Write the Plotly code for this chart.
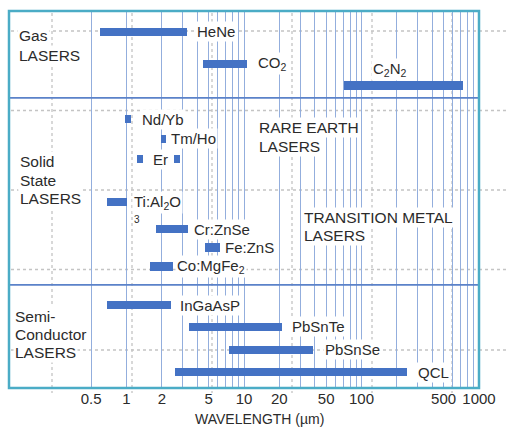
import numpy as np
import plotly.graph_objects as go

# ---------------- data ----------------
lasers = ["HeNe", "CO2", "C2N2", "Nd/Yb", "Tm/Ho", "Er", "Er", "Ti:Al2O3",
          "Cr:ZnSe", "Fe:ZnS", "Co:MgFe2", "InGaAsP", "PbSnTe", "PbSnSe", "QCL"]
start_um = [0.6, 4.5, 71, 0.98, 1.95, 1.22, 2.53, 0.68, 1.8, 4.7, 1.6, 0.68, 3.4, 7.5, 2.6]
end_um = [3.3, 10.6, 730, 1.09, 2.15, 1.37, 2.84, 1.0, 3.35, 6.2, 2.5, 2.4, 21, 39, 245]
rows = [1.0, 2.53, 3.56, 5.16, 6.11, 7.07, 7.07, 9.12, 10.41, 11.29, 12.2,
        14.04, 15.08, 16.17, 17.25]
section_bounds = [4.15, 13.08]

tick_vals = [0.5, 1, 2, 5, 10, 20, 50, 100, 500, 1000]
tick_text = ["0.5", "1", "2", "5", "10", "20", "50", "100", "500", "1000"]
grid_vals = [0.5, 1, 2, 3, 4, 5, 6, 7, 8, 9, 10, 20, 30, 40, 50, 60, 70, 80, 90,
             100, 200, 300, 400, 500, 600, 700, 800, 900, 1000]

# bar label: (text, bar index, x shift px, y shift px, anchor at 'end' or 'start')
bar_labels = [
    ("HeNe", 0, 8, 0, "end"),
    ("CO<sub>2</sub>", 1, 9, 0, "end"),
    ("C<sub>2</sub>N<sub>2</sub>", 2, 27, 16, "start"),
    ("Nd/Yb", 3, 9, 0, "end"),
    ("Tm/Ho", 4, 3, 0, "end"),
    ("Er", 5, 8, 0, "end"),
    ("Ti:Al<sub>2</sub>O", 7, 5, 0, "end"),
    ("Cr:ZnSe", 8, 4, 0, "end"),
    ("Fe:ZnS", 9, 3, 0, "end"),
    ("Co:MgFe<sub>2</sub>", 10, 2, 0, "end"),
    ("InGaAsP", 11, 7, 0, "end"),
    ("PbSnTe", 12, 8, 0, "end"),
    ("PbSnSe", 13, 10, 0, "end"),
    ("QCL", 14, 9, 0, "end"),
]

# ---------------- layout geometry ----------------
W, H = 507, 427
ML, MR, MT, MB = 9, 28, 11, 39
PW, PH = W - ML - MR, H - MT - MB
Y_RANGE = [18, 0]


def px_x(px):
    return (px - ML) / PW


def px_y(py):
    return (H - MB - py) / PH


BAR_COLOR = "#4472C4"
GRID_COLOR = "#93aedd"
TEXT_COLOR = "#2b2b2b"
FONT = "Liberation Sans, Arial, sans-serif"

fig = go.Figure()
widths = [e - s for s, e in zip(start_um, end_um)]
fig.add_trace(go.Bar(
    y=rows, x=widths, base=start_um, orientation="h", width=0.39,
    marker=dict(color=BAR_COLOR, line=dict(width=0)),
    hovertext=lasers, hoverinfo="text",
))

annotations = []
for text, idx, xs, ys, anchor in bar_labels:
    xv = end_um[idx] if anchor == "end" else start_um[idx]
    annotations.append(dict(
        x=np.log10(xv), y=rows[idx], xref="x", yref="y", text=text,
        xanchor="left", yanchor="middle", xshift=xs, yshift=ys,
        showarrow=False, bgcolor="white", borderpad=1,
        font=dict(size=15, color=TEXT_COLOR, family=FONT)))

# stray subscript "3" of Ti:Al2O3
annotations.append(dict(x=px_x(131.5), y=px_y(220), xref="paper", yref="paper",
                        text="3", xanchor="left", yanchor="middle", showarrow=False,
                        font=dict(size=10, color=TEXT_COLOR, family=FONT)))

# category and group labels (one annotation per line)
side_labels = [
    ("Gas", 17, 36), ("LASERS", 17, 55),
    ("Solid", 18, 161.5), ("State", 18, 180), ("LASERS", 18, 198),
    ("Semi-", 13, 316), ("Conductor", 13, 334), ("LASERS", 13, 352),
]
for t, x, y in side_labels:
    annotations.append(dict(x=px_x(x), y=px_y(y), xref="paper", yref="paper", text=t,
                            xanchor="left", yanchor="middle", showarrow=False,
                            bgcolor="white", borderpad=1,
                            font=dict(size=15.5, color=TEXT_COLOR, family=FONT)))

group_labels = [
    ("RARE EARTH", 257, 128), ("LASERS", 257, 146),
    ("TRANSITION METAL", 302, 217), ("LASERS", 302, 235),
]
for t, x, y in group_labels:
    annotations.append(dict(x=px_x(x), y=px_y(y), xref="paper", yref="paper", text=t,
                            xanchor="left", yanchor="middle", showarrow=False,
                            bgcolor="white", borderpad=1,
                            font=dict(size=15.5, color=TEXT_COLOR, family=FONT)))

annotations.append(dict(x=px_x(259), y=px_y(419), xref="paper", yref="paper",
                        text="WAVELENGTH (µm)", xanchor="center", yanchor="middle",
                        showarrow=False,
                        font=dict(size=14, color=TEXT_COLOR, family=FONT)))

shapes = []
# dotted background grid
for vx in [52, 132, 212, 292, 372, 452]:
    shapes.append(dict(type="line", xref="paper", yref="paper", x0=px_x(vx), x1=px_x(vx),
                       y0=px_y(13), y1=px_y(393), layer="below",
                       line=dict(color="#c4c4c4", width=1.3, dash="dot")))
for hy in [31, 110.5, 190, 269.5, 350]:
    shapes.append(dict(type="line", xref="paper", yref="paper", x0=px_x(11), x1=px_x(507),
                       y0=px_y(hy), y1=px_y(hy), layer="below",
                       line=dict(color="#c4c4c4", width=1.3, dash="dot")))
# section dividers
for b in section_bounds:
    shapes.append(dict(type="line", xref="paper", yref="y", x0=0, x1=1, y0=b, y1=b,
                       layer="above", line=dict(color="#5b82c9", width=1.8)))
# frame
shapes.append(dict(type="rect", xref="paper", yref="paper", x0=0, x1=1, y0=0, y1=1,
                   layer="above", line=dict(color="#4bacc6", width=2.5)))

fig.update_layout(
    width=W, height=H, margin=dict(l=ML, r=MR, t=MT, b=MB),
    paper_bgcolor="white", plot_bgcolor="rgba(0,0,0,0)",
    showlegend=False, bargap=0,
    annotations=annotations, shapes=shapes,
    xaxis=dict(type="log", range=[-1, 3], tickmode="array", tickvals=tick_vals,
               ticktext=tick_text, tickangle=0,
               showgrid=True, gridcolor=GRID_COLOR, gridwidth=1.3,
               minor=dict(tickmode="array", tickvals=grid_vals, showgrid=True,
                          gridcolor=GRID_COLOR, gridwidth=1.3, ticks=""),
               zeroline=False, showline=False, ticks="",
               tickfont=dict(size=15, color=TEXT_COLOR, family=FONT)),
    yaxis=dict(range=Y_RANGE, showgrid=False, zeroline=False, showticklabels=False,
               fixedrange=True),
)

fig.write_html("out.html")
